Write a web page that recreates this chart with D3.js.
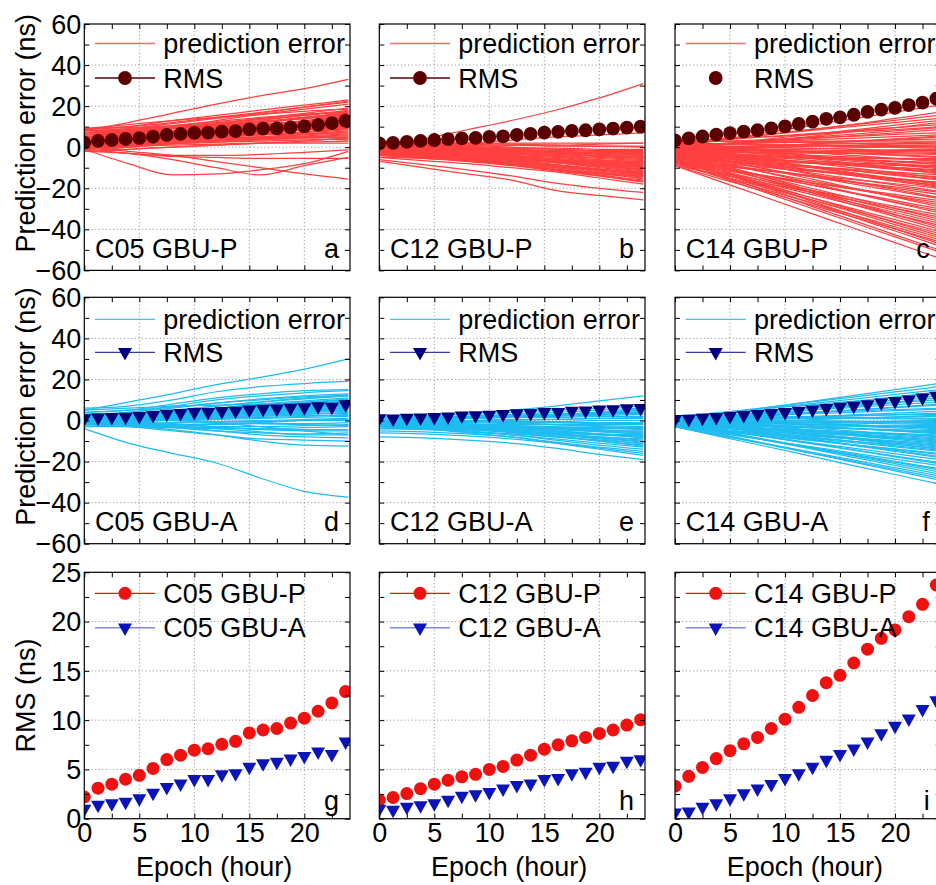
<!DOCTYPE html>
<html>
<head>
<meta charset="utf-8">
<script src="https://cdn.jsdelivr.net/npm/d3@7"></script>
<style>
  body { margin: 0; background: #fff; }
  svg { display: block; }
  text { font-family: "Liberation Sans", Arial, sans-serif; fill: #000; }
</style>
</head>
<body>
<svg id="chart" width="936" height="885"></svg>
<script>
// ---- data ----
const satellites = ["C05", "C12", "C14"];
const panelLetters = [["a", "b", "c"], ["d", "e", "f"], ["g", "h", "i"]];
const errTicks = [-60, -40, -20, 0, 20, 40, 60];
const rmsTicks = [0, 5, 10, 15, 20, 25];
const hourTicks = [0, 5, 10, 15, 20];

// epochs (hour) of the prediction-error curves and of the RMS samples
const lineHours = [0, 4, 8, 12, 16, 20, 24];
const rmsHours = [0, 1.25, 2.5, 3.75, 5, 6.25, 7.5, 8.75, 10, 11.25, 12.5, 13.75,
                  15, 16.25, 17.5, 18.75, 20, 21.25, 22.5, 23.75];

// RMS (ns)
const rmsC05P = [2.2, 3.1, 3.5, 4.0, 4.4, 5.1, 6.0, 6.45, 6.95, 7.1, 7.55, 7.85, 8.7, 9.0, 9.15, 9.7, 10.2, 10.9, 11.75, 12.9];
const rmsC05A = [1.0, 1.4, 1.55, 1.7, 2.05, 2.6, 3.2, 3.55, 4.0, 4.0, 4.5, 4.6, 5.25, 5.6, 5.75, 6.1, 6.35, 6.8, 6.55, 7.8];
const rmsC12P = [1.9, 2.15, 2.55, 3.05, 3.5, 3.9, 4.25, 4.5, 5.0, 5.3, 5.95, 6.45, 7.05, 7.5, 7.9, 8.25, 8.65, 9.0, 9.5, 10.05];
const rmsC12A = [1.0, 0.9, 1.2, 1.35, 1.55, 1.9, 2.3, 2.45, 2.7, 3.05, 3.4, 3.55, 4.0, 4.1, 4.6, 4.75, 5.25, 5.35, 5.85, 6.0];
const rmsC14P = [3.3, 4.3, 5.2, 6.1, 6.9, 7.6, 8.25, 9.15, 10.1, 11.3, 12.5, 13.8, 14.55, 15.8, 17.2, 18.3, 19.15, 20.5, 21.75, 23.7];
const rmsC14A = [0.6, 0.7, 1.2, 1.55, 2.05, 2.55, 3.05, 3.5, 4.1, 4.6, 5.25, 5.95, 6.55, 7.1, 7.8, 8.65, 9.4, 10.15, 11.1, 12.0];

// prediction error curves (ns) at lineHours
const errC05P = [
  [8, 12, 16.5, 21, 25, 28.5, 33],
  [8.5, 10, 13, 15.5, 18, 20.5, 23],
  [7, 9, 11.5, 14, 16.5, 19.5, 22.5],
  [9, 10, 12, 14.5, 17, 19.5, 22],
  [6, 8, 10, 13, 16, 18.5, 21],
  [5, 7, 9, 11, 13, 15.5, 17.5],
  [4, 6, 8, 10.5, 12.5, 14.5, 16.5],
  [6, 7.5, 9, 10.5, 12, 14, 16],
  [3, 5, 7, 9, 11, 13, 15.5],
  [2, 4, 6.5, 8.5, 10.5, 12.5, 15],
  [4, 5.5, 7, 8.5, 10, 12, 14],
  [1, 3, 5, 7.5, 9.5, 11.5, 13.5],
  [3, 4.5, 6, 7, 9, 11, 13],
  [0, 2, 4, 6, 8, 10, 12.5],
  [2, 3.5, 5, 6.5, 8, 10, 12],
  [5, 6, 7, 8, 9, 10.5, 11.5],
  [-1, 1, 3, 5, 7, 9, 11],
  [1, 2.5, 4, 5.5, 7, 8.5, 10.5],
  [3, 4, 5, 6, 7, 8.5, 10],
  [0, 1.5, 3, 4.5, 6, 7.5, 9.5],
  [2, 3, 4, 5, 6.5, 7.5, 9],
  [-2, 0, 2, 3.5, 5, 6.5, 8],
  [1, 2, 3, 4, 5, 6, 7.5],
  [0, 1, 2, 3, 4, 5, 6],
  [-1, 0, 1.5, 2.5, 3.5, 4.5, 5],
  [2, 2.5, 3, 3.5, 4, 4, 3.5],
  [-2, -1, 0, 1, 2, 2.5, 3],
  [0, 0.5, 1, 1.5, 2, 2, 2],
  [7, 8.5, 10, 11.5, 13.5, 15.5, 18],
  [4, 6.5, 9, 11.5, 14, 16.5, 19],
  [8, 9, 10.5, 12, 14, 16, 17.5],
  [7, 8, 9.5, 11, 12.5, 14.5, 16.5],
  [9, 9.5, 10, 11, 12.5, 14, 15.5],
  [6, 7, 8, 9.5, 11, 12.5, 14.5],
  [5, 6, 7.5, 9, 10.5, 12, 13.5],
  [8, 8.5, 9, 10, 11, 12, 13],
  [4, 5, 6, 7.5, 9, 10.5, 12],
  [7, 7.5, 8, 8.5, 9.5, 10.5, 11],
  [3, 4, 5, 6.5, 8, 9, 10],
  [6, 6.5, 7, 7.5, 8, 8.5, 9],
  [2, 3, 4, 5, 6, 7, 8.5],
  [4, 4.5, 5, 5.5, 6, 6.5, 7],
  [1, 1.5, 2.5, 3.5, 4.5, 5.5, 6.5],
  [-1, 0.5, 2, 3, 4, 5, 5.5],
  [3, 3.5, 4, 4.5, 5, 5, 4.5],
  [0, 1, 2, 2.5, 3, 3.5, 4],
  [-2, -1, 0, 1, 2, 3, 4.5],
  [5, 6.5, 8, 10, 12, 14, 16],
  [2, 4.5, 7, 9.5, 12, 14.5, 17],
  [1, 3.5, 6, 8, 10, 12.5, 15],
  [0, 2.5, 5, 7, 9, 11, 13],
  [-1, 1.5, 4, 6, 8, 10, 12],
  [6, 8, 10.5, 12.5, 14.5, 16, 17],
  [9, 11, 13, 14.5, 16, 17.5, 18.5],
  [-1, -3, -4, -4, -3.5, -2.5, -1.3],
  [-2, -3, -4.5, -5, -5.5, -5.5, -5.5],
  [-1, -8, -13.5, -13, -11, -8, -2],
  [-1, -3, -6, -10, -13.5, -9, -5],
  [0, -2, -4, -7, -10, -13, -15.5]
];
const errC12P = [
  [1, 4, 8.5, 13, 18, 24, 31],
  [0, 1, 2, 3.5, 5, 6, 7],
  [2, 2, 2, 2, 2, 2, 2],
  [1, 1, 1, 1, 0.5, 0.5, 0],
  [3, 2.5, 2, 1.5, 1, 0.5, 0.5],
  [0, 0, -0.5, -1, -1.5, -2, -2],
  [2, 1, 0, -1, -2, -3, -3.5],
  [-1, -1.5, -2, -3, -3.5, -4, -4.5],
  [1, 0, -1, -2.5, -4, -5, -6],
  [0, -1, -2.5, -4, -5, -6.5, -7.5],
  [-2, -2.5, -3.5, -4.5, -5.5, -7, -8],
  [2, 0, -2, -4, -6, -8, -9],
  [-1, -2, -3.5, -5, -6.5, -8.5, -10],
  [0, -1.5, -3, -5, -7, -9, -10.5],
  [-3, -4, -5, -6, -7.5, -9, -11],
  [1, -1, -3, -5.5, -7.5, -10, -12],
  [-2, -3, -4.5, -6.5, -8.5, -10.5, -12.5],
  [-1, -2.5, -4.5, -6.5, -9, -11, -13],
  [0, -2, -4, -6.5, -9, -11.5, -14],
  [-3, -4.5, -6, -8, -10, -12.5, -14.5],
  [-2, -3.5, -5.5, -8, -10.5, -13, -15],
  [-4, -5, -6.5, -8.5, -11, -13.5, -16],
  [-1, -3, -5.5, -8.5, -11, -14, -17],
  [-5, -6.5, -8, -10, -12, -15, -18],
  [-6, -8.5, -11, -14, -17.5, -20, -22],
  [-6.8, -10, -13, -16, -21, -23.5, -25.6],
  [0.5, -0.5, -1.5, -2.5, -3.5, -4, -5],
  [-2, -2, -2.5, -3, -3.5, -4.5, -5.5],
  [1.5, 0.5, -0.5, -1.5, -3, -4, -5],
  [-3, -3.5, -4, -5, -6, -7, -7.5],
  [-1.5, -2.5, -4, -5.5, -7, -8.5, -9.5],
  [-4, -4.5, -5, -6, -7, -8, -9],
  [2, 1.5, 0.5, -0.5, -1, -1.5, -1.5],
  [-0.5, -1, -1.5, -2, -2.5, -3, -3],
  [2.5, 2, 1.5, 1, 1, 1.5, 2],
  [1, 0.5, 0, -0.5, -0.5, -1, -1],
  [0, -0.5, -1, -2, -2.5, -3, -4],
  [-1, -1.5, -2.5, -3.5, -4.5, -5.5, -6.5],
  [1, 0, -1.5, -3, -4.5, -6, -7],
  [-2, -3, -4, -5, -6.5, -8, -8.5],
  [0, -1, -2.5, -4, -6, -7.5, -9],
  [-3, -3.5, -4.5, -5.5, -7, -8.5, -10],
  [-1, -2, -3.5, -5.5, -7.5, -9.5, -11.5],
  [-4, -5, -6, -7.5, -9, -11, -12],
  [-2, -3, -5, -7, -9, -11, -13.5],
  [-3, -4, -5.5, -7.5, -9.5, -12, -15.5],
  [-5, -5.5, -6.5, -8, -10, -12.5, -13.5],
  [-4, -5.5, -7, -9, -11.5, -14, -16.5],
  [2, 1, 0, -1.5, -2.5, -3.5, -4],
  [0.5, 0, -1, -2, -3, -4.5, -5.5],
  [-0.5, -1.5, -3, -4.5, -6, -7.5, -8],
  [-2.5, -3, -4, -5, -6, -6.5, -7],
  [1, 0, -2, -4, -6.5, -9, -11],
  [-1, -2, -4, -6, -8.5, -11, -12.5],
  [-3.5, -4.5, -6.5, -8.5, -11, -13, -14],
  [0, -0.5, -1, -1.5, -2, -2.5, -2.5],
  [3, 2, 1, 0, -1, -2, -2.5]
];
const errC14P = [
  [0, 3.4, 6.8, 10.3, 13.7, 17.1, 20.5],
  [1, 3.5, 6, 8.5, 11, 14, 17],
  [2, 4, 6, 8, 10, 12, 14],
  [-1, 1, 3, 5, 7.5, 9.5, 12],
  [3, 4, 5, 6, 7.5, 8.5, 10],
  [0, 1.5, 3, 4, 5.5, 7, 8.5],
  [2, 2.8, 3.6, 4.5, 5.3, 6.2, 7],
  [-2, -1, 0.5, 1.5, 3, 4, 5.5],
  [1, 1.5, 2, 2.5, 3, 3.5, 4],
  [3, 3, 3, 3, 3, 3, 3],
  [-1, -0.5, 0, 0.5, 1, 1.5, 2],
  [0, 0.2, 0.3, 0.5, 0.7, 0.8, 1],
  [2, 1.7, 1.3, 1, 0.7, 0.3, 0],
  [-3, -2.7, -2.3, -2, -1.7, -1.3, -1],
  [1, 0.5, 0, -0.5, -1, -1.5, -2],
  [-1, -1.3, -1.7, -2, -2.3, -2.7, -3],
  [0, -0.7, -1.5, -2.2, -3, -3.7, -4.5],
  [-4, -4.3, -4.7, -5, -5.3, -5.7, -6],
  [2, 0.5, -1, -2.5, -4, -5.5, -7],
  [-2, -3, -4, -5, -6, -7, -8],
  [-5, -5.7, -6.3, -7, -7.7, -8.3, -9],
  [0, -1.5, -3.2, -5, -6.8, -8.6, -10.5],
  [-3, -4.3, -5.8, -7.3, -8.8, -10.4, -12],
  [1, -0.8, -3, -5.3, -7.7, -10.2, -13],
  [-6, -7.1, -8.4, -9.8, -11.3, -12.9, -14.5],
  [-2, -4.3, -6.7, -9, -11.3, -13.7, -16],
  [-4, -6.3, -8.5, -10.8, -13, -15.3, -17.5],
  [0, -3.2, -6.3, -9.5, -12.7, -15.8, -19],
  [-7, -9.2, -11.3, -13.5, -15.7, -17.8, -20],
  [-3, -6.1, -9.2, -12.3, -15.3, -18.4, -21.5],
  [-5, -8, -11, -14, -17, -20, -23],
  [-1, -4.9, -8.8, -12.8, -16.7, -20.6, -24.5],
  [-8, -11, -14, -17, -20, -23, -26],
  [-4, -8, -12, -16, -20, -24, -28],
  [-6, -10, -14, -18, -22, -26, -30],
  [-2, -7, -12, -17, -22, -27, -32],
  [-9, -13.2, -17.3, -21.5, -25.7, -29.8, -34],
  [-5, -10.2, -15.3, -20.5, -25.7, -30.8, -36],
  [-7, -12.2, -17.3, -22.5, -27.7, -32.8, -38],
  [-3, -9.2, -15.3, -21.5, -27.7, -33.8, -40],
  [-8, -13.7, -19.3, -25, -30.7, -36.3, -42],
  [-6, -12.3, -18.7, -25, -31.3, -37.7, -44],
  [-9, -15.2, -21.3, -27.5, -33.7, -39.8, -46],
  [-5, -12.2, -19.3, -26.5, -33.7, -40.8, -48],
  [-7, -14.3, -21.7, -29, -36.3, -43.7, -51],
  [-9, -16.5, -24, -31.5, -39, -46.5, -54],
  [1, 3.4, 5.8, 8.3, 10.7, 13.1, 15.5],
  [-1, 1.3, 3.7, 6, 8.3, 10.7, 13],
  [2, 3.5, 5, 6.5, 8, 9.5, 11],
  [0, 1.6, 3.2, 4.8, 6.3, 7.9, 9.5],
  [1, 1.8, 2.7, 3.5, 4.3, 5.2, 6],
  [-2, -0.8, 0.3, 1.5, 2.7, 3.8, 5],
  [0, 0.4, 0.8, 1.3, 1.7, 2.1, 2.5],
  [3, 2.8, 2.5, 2.3, 2, 1.8, 1.5],
  [-2, -1.6, -1.2, -0.8, -0.3, 0.1, 0.5],
  [2, 1.6, 1.2, 0.8, 0.3, -0.1, -0.5],
  [-4, -3.6, -3.2, -2.8, -2.3, -1.9, -1.5],
  [0, -0.4, -0.8, -1.3, -1.7, -2.1, -2.5],
  [-2, -2.3, -2.5, -2.8, -3, -3.3, -3.5],
  [1, 0, -1, -2, -3, -4, -5],
  [-5, -5.1, -5.2, -5.3, -5.3, -5.4, -5.5],
  [-1, -1.9, -2.8, -3.8, -4.7, -5.6, -6.5],
  [-3, -3.8, -4.5, -5.3, -6, -6.8, -7.5],
  [0, -1.4, -2.8, -4.3, -5.7, -7.1, -8.5],
  [-6, -6.6, -7.2, -7.8, -8.3, -8.9, -9.5],
  [2, 0, -2, -4, -6, -8, -10],
  [-4, -5.2, -6.3, -7.5, -8.7, -9.8, -11],
  [-1, -2.8, -4.5, -6.3, -8, -9.8, -11.5],
  [-2, -3.8, -5.5, -7.3, -9, -10.8, -12.5],
  [-5, -6.4, -7.8, -9.3, -10.7, -12.1, -13.5],
  [0, -2.5, -5, -7.5, -10, -12.5, -15],
  [-3, -5.1, -7.2, -9.3, -11.3, -13.4, -15.5],
  [-6, -7.8, -9.7, -11.5, -13.3, -15.2, -17],
  [-1, -3.8, -6.7, -9.5, -12.3, -15.2, -18],
  [-4, -6.4, -8.8, -11.3, -13.7, -16.1, -18.5],
  [-2, -4.9, -7.8, -10.8, -13.7, -16.6, -19.5],
  [-6, -8.7, -11.3, -14, -16.7, -19.3, -22],
  [-3, -6.7, -10.3, -14, -17.7, -21.3, -25],
  [-7, -10.3, -13.7, -17, -20.3, -23.7, -27],
  [-1, -5.7, -10.3, -15, -19.7, -24.3, -29],
  [-5, -9.3, -13.7, -18, -22.3, -26.7, -31],
  [-8, -12.2, -16.3, -20.5, -24.7, -28.8, -33],
  [-4, -9.2, -14.3, -19.5, -24.7, -29.8, -35],
  [-6, -11.2, -16.3, -21.5, -26.7, -31.8, -37],
  [-2, -8.2, -14.3, -20.5, -26.7, -32.8, -39],
  [-7, -12.7, -18.3, -24, -29.7, -35.3, -41],
  [-5, -11.3, -17.7, -24, -30.3, -36.7, -43],
  [-8, -14.2, -20.3, -26.5, -32.7, -38.8, -45],
  [-4, -11.2, -18.3, -25.5, -32.7, -39.8, -47],
  [-6, -13.3, -20.7, -28, -35.3, -42.7, -50]
];
const errC05A = [
  [5, 9, 13, 17.5, 21, 25, 30],
  [6, 7, 10, 14, 16.5, 18, 19],
  [4, 5, 8, 11, 13, 14.5, 15],
  [2, 4, 7, 10, 12, 13.5, 14.5],
  [3, 4, 6, 8.5, 10.5, 12, 13],
  [1, 3, 5, 7, 9, 10.5, 12],
  [0, 2, 4, 6, 8, 9.5, 11],
  [2, 3, 4, 5.5, 7, 8.5, 10],
  [-1, 1, 3, 4.5, 6, 7.5, 9],
  [1, 2, 3, 4, 5.5, 6.5, 8],
  [0, 1, 2, 3, 4.5, 5.5, 7],
  [-2, 0, 1.5, 3, 4, 5, 6],
  [1, 1.5, 2, 3, 3.5, 4.5, 5],
  [0, 0.5, 1, 1.5, 2.5, 3, 4],
  [-1, -0.5, 0, 1, 1.5, 2, 3],
  [0, 0, 0, 0.5, 1, 1.5, 2],
  [-2, -1.5, -1, -0.5, 0, 0.5, 1],
  [1, 0.5, 0, -0.5, -0.5, 0, 0],
  [-1, -1.5, -2, -2, -1.5, -1.5, -1],
  [0, -1, -2, -3, -3, -2.5, -2],
  [-3, -3, -3.5, -4, -4, -3.5, -3],
  [-1, -2, -3.5, -5, -6, -6.5, -6],
  [0, -1.5, -3, -5, -7, -8, -8.5],
  [-2, -3, -5, -7, -9, -9.5, -10],
  [-1, -2.5, -4.5, -7, -10, -12, -12.5],
  [-4, -11, -16, -20.7, -28, -34.5, -37.3],
  [2, 1.5, 0.5, -1, -3, -5, -7],
  [3, 3.5, 5, 7, 9, 11, 12.5],
  [-1, 0, 1, 2.5, 4, 6, 8],
  [1, 2, 2.5, 3.5, 5, 6.5, 8],
  [0, 1, 2.5, 4, 5.5, 7, 8.5],
  [1, 2, 3.5, 5, 6.5, 8, 9.5],
  [2, 2.5, 3.5, 4.5, 6, 7.5, 9],
  [-1, 0, 1.5, 3, 4.5, 6, 7.5],
  [0, 1, 2, 3.5, 5, 6.5, 7],
  [1, 1.5, 2, 3, 4, 5, 6.5],
  [-2, -1, 0.5, 2, 3, 4, 5.5],
  [2, 2, 2.5, 3, 4, 5, 6],
  [0, 0.5, 1.5, 2.5, 3, 4, 4.5],
  [3, 3.5, 4, 5, 6, 7, 8.5],
  [1, 2.5, 4, 5.5, 7, 8.5, 10.5],
  [-1, -0.5, 0.5, 1.5, 2.5, 3.5, 3.5],
  [0, 0, 0.5, 1, 2, 2.5, 2.5],
  [2, 3, 4.5, 6, 7.5, 9, 10],
  [-3, -2.5, -2, -1.5, -1, 0, 0.5],
  [1, 0.5, 0, -1, -1.5, -2, -2.5],
  [-2, -2.5, -3, -3.5, -4, -4.5, -4.5],
  [0, -0.5, -1.5, -3, -4.5, -5, -5],
  [-1, -1.5, -2.5, -4, -5.5, -7, -7],
  [4, 5, 6.5, 8.5, 10, 11.5, 12],
  [5, 6, 7, 7.5, 8, 8.5, 9]
];
const errC12A = [
  [1, 2, 3.5, 5, 7, 9.5, 12],
  [2, 2.5, 3, 4, 5, 6, 7],
  [0, 1, 2, 3, 4, 5, 6],
  [1, 1.5, 2, 2.5, 3, 4, 5],
  [-1, 0, 1, 1.5, 2.5, 3, 4],
  [0, 0.5, 1, 1.5, 2, 2.5, 3],
  [2, 1.5, 1.5, 1.5, 1.5, 2, 2],
  [-1, -0.5, 0, 0.5, 0.5, 1, 1],
  [0, 0, -0.5, -0.5, -0.5, 0, 0],
  [1, 0.5, 0, -0.5, -1, -1, -1],
  [-2, -2, -2, -2, -2, -2, -2],
  [0, -0.5, -1, -1.5, -2, -2.5, -3],
  [-1, -1.5, -2, -2.5, -3, -3.5, -4],
  [-3, -3, -3.5, -4, -4.5, -5, -5],
  [0, -1, -2, -3, -4, -5, -6],
  [-2, -2.5, -3.5, -4.5, -5.5, -6.5, -7],
  [-1, -2, -3, -4, -5.5, -7, -8],
  [-3, -3.5, -4.5, -5.5, -6.5, -8, -9],
  [-1, -2, -3.5, -5, -6.5, -8.5, -10],
  [-4, -4.5, -5.5, -6.5, -8, -9.5, -11],
  [-2, -3, -4.5, -6, -8, -10, -12],
  [-3, -4, -5.5, -7, -9, -11, -13],
  [-2, -3.5, -5, -7, -9.5, -12, -14],
  [-5, -5.5, -6.5, -8, -10.5, -13, -15],
  [-3, -4, -6, -8, -11, -14, -17],
  [-8, -8.5, -9.5, -11, -13.5, -16.5, -19],
  [-6, -6.5, -7.5, -9, -11, -13.5, -16],
  [1, 1, 1.5, 2, 3, 4, 5.5],
  [0, 0.5, 1, 2, 3, 3.5, 4],
  [1, 1, 1.5, 2, 2.5, 3, 3.5],
  [-1, -1, -0.5, 0, 0.5, 1, 1.5],
  [0, -0.5, -0.5, -1, -1, -1.5, -1.5],
  [-2, -2.5, -3, -3.5, -4, -4, -4.5],
  [-1, -1.5, -2.5, -3.5, -4.5, -5.5, -6.5],
  [-3, -3.5, -4, -5, -6, -7, -7.5],
  [0, -1, -2, -3.5, -5, -6.5, -8.5],
  [-2, -2.5, -3.5, -5, -6.5, -8, -9.5],
  [-1, -2, -3, -4.5, -6.5, -8.5, -10.5],
  [-4, -4, -4.5, -5.5, -7, -9, -11.5],
  [-2, -3, -4, -5.5, -7.5, -10, -12.5],
  [1, 0.5, 0, -1, -2, -3, -3.5],
  [2, 2, 2, 2.5, 3, 3.5, 4.5],
  [-1, -1.5, -2, -2.5, -3.5, -4.5, -5.5],
  [-3, -3, -3, -3, -3.5, -3.5, -3.5],
  [0, -0.5, -1.5, -2.5, -3.5, -5, -7],
  [-2, -2, -2.5, -3.5, -5, -6.5, -8]
];
const errC14A = [
  [0, 3, 6, 9, 12, 15, 18],
  [1, 3.3, 5.7, 8, 10.3, 12.7, 15],
  [2, 3.8, 5.7, 7.5, 9.3, 11.2, 13],
  [-1, 1, 3, 5, 7, 9, 11],
  [1, 2.3, 3.7, 5, 6.3, 7.7, 9],
  [0, 1.3, 2.5, 3.8, 5, 6.3, 7.5],
  [2, 2.7, 3.3, 4, 4.7, 5.3, 6],
  [-1, -0.1, 0.8, 1.8, 2.7, 3.6, 4.5],
  [1, 1.3, 1.7, 2, 2.3, 2.7, 3],
  [0, 0.3, 0.7, 1, 1.3, 1.7, 2],
  [2, 1.8, 1.7, 1.5, 1.3, 1.2, 1],
  [-2, -1.7, -1.3, -1, -0.7, -0.3, 0],
  [1, 0.7, 0.3, 0, -0.3, -0.7, -1],
  [0, -0.3, -0.7, -1, -1.3, -1.7, -2],
  [-1, -1.3, -1.7, -2, -2.3, -2.7, -3],
  [2, 1, 0, -1, -2, -3, -4],
  [-2, -2.5, -3, -3.5, -4, -4.5, -5],
  [0, -1, -2, -3, -4, -5, -6],
  [-3, -3.7, -4.3, -5, -5.7, -6.3, -7],
  [1, -0.5, -2, -3.5, -5, -6.5, -8],
  [-1, -2.3, -3.7, -5, -6.3, -7.7, -9],
  [-2, -3.3, -4.7, -6, -7.3, -8.7, -10],
  [0, -1.8, -3.7, -5.5, -7.3, -9.2, -11],
  [-3, -4.5, -6, -7.5, -9, -10.5, -12],
  [-1, -3, -5, -7, -9, -11, -13],
  [1, -1.5, -4, -6.5, -9, -11.5, -14],
  [-2, -4.2, -6.3, -8.5, -10.7, -12.8, -15],
  [-3, -5.2, -7.3, -9.5, -11.7, -13.8, -16],
  [0, -2.9, -5.8, -8.8, -11.7, -14.6, -17.5],
  [-2, -4.8, -7.7, -10.5, -13.3, -16.2, -19],
  [-1, -4.3, -7.5, -10.8, -14, -17.3, -20.5],
  [-3, -6.2, -9.3, -12.5, -15.7, -18.8, -22],
  [-2, -5.6, -9.2, -12.8, -16.3, -19.9, -23.5],
  [-1, -5, -9, -13, -17, -21, -25],
  [-3, -7, -11, -15, -19, -23, -27],
  [-2, -6.5, -11, -15.5, -20, -24.5, -29],
  [-3, -7.7, -12.3, -17, -21.7, -26.3, -31],
  [1, 3.6, 6.2, 8.8, 11.3, 13.9, 16.5],
  [-1, 1.5, 4, 6.5, 9, 11.5, 14],
  [0, 2, 4, 6, 8, 10, 12],
  [2, 3.3, 4.7, 6, 7.3, 8.7, 10],
  [-1, 0.5, 2, 3.5, 5, 6.5, 8],
  [1, 1.8, 2.5, 3.3, 4, 4.8, 5.5],
  [0, 0.6, 1.2, 1.8, 2.3, 2.9, 3.5],
  [-2, -1.3, -0.5, 0.3, 1, 1.8, 2.5],
  [2, 1.8, 1.5, 1.3, 1, 0.8, 0.5],
  [-1, -0.9, -0.8, -0.8, -0.7, -0.6, -0.5],
  [1, 0.6, 0.2, -0.3, -0.7, -1.1, -1.5],
  [-3, -2.9, -2.8, -2.8, -2.7, -2.6, -2.5],
  [0, -0.6, -1.2, -1.8, -2.3, -2.9, -3.5],
  [1, 0.1, -0.8, -1.8, -2.7, -3.6, -4.5],
  [-1, -1.8, -2.5, -3.3, -4, -4.8, -5.5],
  [2, 0.6, -0.8, -2.3, -3.7, -5.1, -6.5],
  [-2, -2.9, -3.8, -4.8, -5.7, -6.6, -7.5],
  [0, -1.4, -2.8, -4.3, -5.7, -7.1, -8.5],
  [-1, -2.4, -3.8, -5.3, -6.7, -8.1, -9.5],
  [1, -0.9, -2.8, -4.8, -6.7, -8.6, -10.5],
  [-2, -3.6, -5.2, -6.8, -8.3, -9.9, -11.5],
  [0, -2.1, -4.2, -6.3, -8.3, -10.4, -12.5],
  [-3, -4.8, -6.5, -8.3, -10, -11.8, -13.5],
  [-1, -3.3, -5.5, -7.8, -10, -12.3, -14.5],
  [-2, -4.4, -6.8, -9.3, -11.7, -14.1, -16.5],
  [0, -3, -6, -9, -12, -15, -18],
  [-1, -4.3, -7.7, -11, -14.3, -17.7, -21],
  [-2, -5.7, -9.3, -13, -16.7, -20.3, -24],
  [-1, -5.2, -9.3, -13.5, -17.7, -21.8, -26],
  [-3, -7.2, -11.3, -15.5, -19.7, -23.8, -28]
];

// ---- lookup tables built from the arrays above ----
const errPanels = [[errC05P, errC12P, errC14P], [errC05A, errC12A, errC14A]];
const rmsP = [rmsC05P, rmsC12P, rmsC14P];
const rmsA = [rmsC05A, rmsC12A, rmsC14A];

// ---- layout & style ----
const colX = [84.3, 379.3, 675];
const rowY = [24, 297.3, 572.3];
const W = 265.7, H = 246.4;
const FS = 27;
const col = {
  errP: "#ff4040", errA: "#1ebcf0",
  rmsPdark: "#5a0000", rmsAdark: "#000080", rmsAlegend: "#3a3aa0",
  rmsPred: "#f01010", rmsAblue: "#0a14b8", rmsAlegendLine: "#7a8ae6",
  grid: "#9a9a9a"
};

const svg = d3.select("#chart");
const x = d3.scaleLinear().domain([0, 24.15]).range([0, W]);
const yErr = d3.scaleLinear().domain([-60, 60]).range([H, 0]);
const yRms = d3.scaleLinear().domain([0, 25]).range([H, 0]);

const minorHours = d3.range(0, 24.01, 2.5);
const errMinor = d3.range(-60, 60.01, 10);
const rmsMinor = d3.range(0, 25.01, 2.5);

// downward triangle centred on its centroid
const triPath = "M-7,-4.2L7,-4.2L0,8.3Z";

svg.append("defs").append("clipPath").attr("id", "plotClip")
  .append("rect").attr("width", W).attr("height", H);

function drawPanel(r, c) {
  const g = svg.append("g").attr("transform", `translate(${colX[c]},${rowY[r]})`);
  const y = r < 2 ? yErr : yRms;
  const yMajor = r < 2 ? errTicks : rmsTicks;
  const yMinor = r < 2 ? errMinor : rmsMinor;

  // dotted grid at major ticks
  const grid = g.append("g").attr("stroke", col.grid).attr("stroke-width", 1)
    .attr("stroke-dasharray", "1.2,2.4");
  grid.selectAll("line.v").data(hourTicks.filter(h => h > 0)).join("line")
    .attr("x1", d => x(d)).attr("x2", d => x(d)).attr("y1", 0).attr("y2", H);
  grid.selectAll("line.h").data(yMajor.slice(1, -1)).join("line")
    .attr("y1", d => y(d)).attr("y2", d => y(d)).attr("x1", 0).attr("x2", W);

  const plot = g.append("g").attr("clip-path", "url(#plotClip)");

  if (r < 2) {
    const curves = errPanels[r][c];
    const line = d3.line().x((d, i) => x(lineHours[i])).y(d => y(d)).curve(d3.curveMonotoneX);
    plot.append("g").selectAll("path").data(curves).join("path")
      .attr("d", line).attr("fill", "none")
      .attr("stroke", r === 0 ? col.errP : col.errA).attr("stroke-width", 1.25);
    const rms = r === 0 ? rmsP[c] : rmsA[c];
    if (r === 0) {
      plot.append("g").selectAll("circle").data(rms).join("circle")
        .attr("cx", (d, i) => x(rmsHours[i])).attr("cy", d => y(d)).attr("r", 6.9)
        .attr("fill", col.rmsPdark);
    } else {
      plot.append("g").selectAll("path").data(rms).join("path")
        .attr("d", triPath)
        .attr("transform", (d, i) => `translate(${x(rmsHours[i])},${y(d)})`)
        .attr("fill", col.rmsAdark);
    }
  } else {
    plot.append("g").selectAll("circle").data(rmsP[c]).join("circle")
      .attr("cx", (d, i) => x(rmsHours[i])).attr("cy", d => y(d)).attr("r", 6.5)
      .attr("fill", col.rmsPred);
    plot.append("g").selectAll("path").data(rmsA[c]).join("path")
      .attr("d", triPath)
      .attr("transform", (d, i) => `translate(${x(rmsHours[i])},${y(d)})`)
      .attr("fill", col.rmsAblue);
  }

  // inward ticks on all four sides
  const tk = 5;
  const axes = [
    [d3.axisBottom(x).tickValues(minorHours), `translate(0,${H})`],
    [d3.axisTop(x).tickValues(minorHours), "translate(0,0)"],
    [d3.axisLeft(y).tickValues(yMinor), "translate(0,0)"],
    [d3.axisRight(y).tickValues(yMinor), `translate(${W},0)`]
  ];
  axes.forEach(([ax, tr]) => {
    const a = g.append("g").attr("transform", tr)
      .call(ax.tickSize(-tk).tickFormat(""));
    a.select(".domain").remove();
    a.selectAll("line").attr("stroke", "#000").attr("stroke-width", 1);
  });

  // frame
  g.append("rect").attr("width", W).attr("height", H)
    .attr("fill", "none").attr("stroke", "#000").attr("stroke-width", 1.2);

  // tick labels
  if (c === 0) {
    const a = g.append("g").call(d3.axisLeft(y).tickValues(yMajor).tickSize(0).tickPadding(3));
    a.select(".domain").remove();
    a.selectAll("text").attr("font-size", FS).attr("dy", "0.34em")
      .attr("font-family", "Liberation Sans, Arial, sans-serif").attr("fill", "#000");
  }
  if (r === 2) {
    const a = g.append("g").attr("transform", `translate(0,${H})`)
      .call(d3.axisBottom(x).tickValues(hourTicks).tickSize(0).tickPadding(4));
    a.select(".domain").remove();
    a.selectAll("text").attr("font-size", FS)
      .attr("font-family", "Liberation Sans, Arial, sans-serif").attr("fill", "#000");
    g.append("text").attr("x", W / 2 - 3).attr("y", H + 57)
      .attr("text-anchor", "middle").attr("font-size", FS).text("Epoch (hour)");
  }

  // panel caption and letter
  if (r < 2) {
    g.append("text").attr("x", 10.7).attr("y", H - 12.5).attr("font-size", FS)
      .text(`${satellites[c]} ${r === 0 ? "GBU-P" : "GBU-A"}`);
  }
  g.append("text").attr("x", W - 11).attr("y", r < 2 ? H - 12.5 : H - 9)
    .attr("text-anchor", "end").attr("font-size", FS).text(panelLetters[r][c]);

  // legend
  const ly = r === 0 ? [19.5, 54] : r === 1 ? [22, 55] : [21, 55.5];
  const lx0 = 10.7, lx1 = 70.7, lxm = 40.7, tx = 79;
  const leg = g.append("g");
  function legLine(yy, color, w) {
    leg.append("line").attr("x1", lx0).attr("x2", lx1).attr("y1", yy).attr("y2", yy)
      .attr("stroke", color).attr("stroke-width", w);
  }
  function legText(yy, s) {
    leg.append("text").attr("x", tx).attr("y", yy + 9.7).attr("font-size", FS).text(s);
  }
  if (r === 0) {
    legLine(ly[0], "#ff6a6a", 1.3);
    legText(ly[0], "prediction error");
    if (c !== 2) legLine(ly[1], col.rmsPdark, 1.3);
    leg.append("circle").attr("cx", lxm).attr("cy", ly[1]).attr("r", 6.9).attr("fill", col.rmsPdark);
    legText(ly[1], "RMS");
  } else if (r === 1) {
    legLine(ly[0], "#3cc4f2", 1.3);
    legText(ly[0], "prediction error");
    legLine(ly[1], col.rmsAlegend, 1.3);
    leg.append("path").attr("d", triPath).attr("transform", `translate(${lxm},${ly[1]})`)
      .attr("fill", col.rmsAdark);
    legText(ly[1], "RMS");
  } else {
    legLine(ly[0], col.rmsPred, 1.2);
    leg.append("circle").attr("cx", lxm).attr("cy", ly[0]).attr("r", 6.5).attr("fill", col.rmsPred);
    legText(ly[0], `${satellites[c]} GBU-P`);
    legLine(ly[1], col.rmsAlegendLine, 1.6);
    leg.append("path").attr("d", triPath).attr("transform", `translate(${lxm},${ly[1]})`)
      .attr("fill", col.rmsAblue);
    legText(ly[1], `${satellites[c]} GBU-A`);
  }
}

for (let r = 0; r < 3; r++) for (let c = 0; c < 3; c++) drawPanel(r, c);

// y-axis titles
const titles = [["Prediction error (ns)", rowY[0] + H / 2 - 14],
                ["Prediction error (ns)", rowY[1] + H / 2 - 14],
                ["RMS (ns)", rowY[2] + H / 2]];
titles.forEach(([s, cy]) => {
  svg.append("text").attr("transform", `translate(34.5,${cy}) rotate(-90)`)
    .attr("text-anchor", "middle").attr("font-size", FS).text(s);
});
</script>
</body>
</html>
